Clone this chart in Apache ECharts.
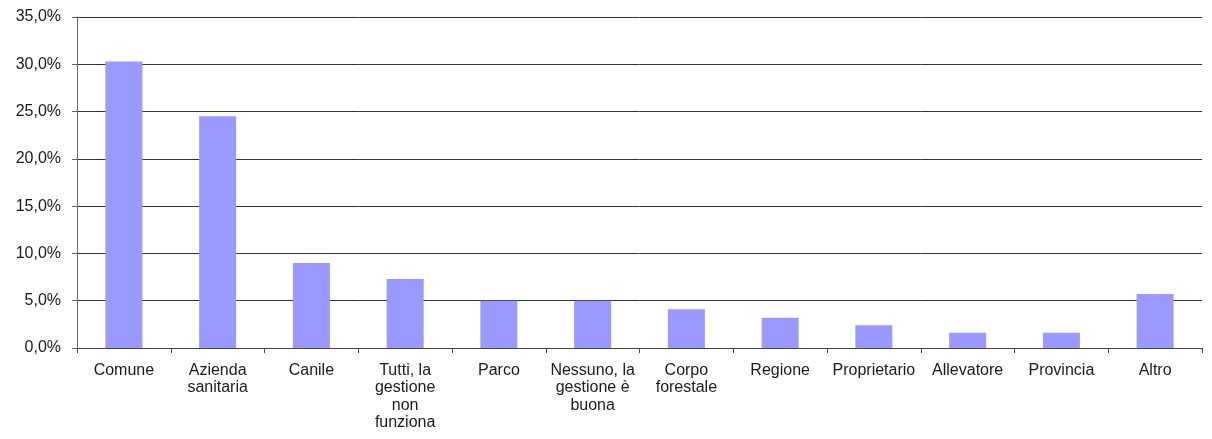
<!DOCTYPE html>
<html>
<head>
<meta charset="utf-8">
<script src="https://cdn.jsdelivr.net/npm/echarts@6/dist/echarts.min.js"></script>
<style>
  html, body { margin: 0; padding: 0; background: #fff; }
  #chart { width: 1212px; height: 439px; }
</style>
</head>
<body>
<div id="chart"></div>
<script>
// Categorie di risposta (con a capo per le etichette lunghe)
const categories = [
  'Comune', 'Azienda\nsanitaria', 'Canile', 'Tutti, la\ngestione\nnon\nfunziona',
  'Parco', 'Nessuno, la\ngestione è\nbuona', 'Corpo\nforestale', 'Regione',
  'Proprietario', 'Allevatore', 'Provincia', 'Altro'
];
// Percentuali di risposta
const values = [30.3, 24.5, 9.0, 7.3, 5.0, 5.0, 4.1, 3.2, 2.4, 1.6, 1.6, 5.7];
// Asse Y: 0–35% a passi di 5
const yMin = 0, yMax = 35, yStep = 5;

const chart = echarts.init(document.getElementById('chart'));
const font = 'Liberation Sans, Arial, sans-serif';
chart.setOption({
  animation: false,
  grid: { left: 77, right: 10, top: 17, bottom: 91, containLabel: false },
  xAxis: {
    type: 'category',
    data: categories,
    axisLine: { lineStyle: { color: '#444', width: 1 } },
    axisTick: { show: true, alignWithLabel: false, length: 5, lineStyle: { color: '#444' } },
    axisLabel: {
      interval: 0, color: '#1a1a1a', fontFamily: font, fontSize: 16,
      lineHeight: 17.3, margin: 14, align: 'center'
    }
  },
  yAxis: {
    type: 'value',
    min: yMin, max: yMax, interval: yStep,
    axisLine: { show: true, lineStyle: { color: '#666', width: 1 } },
    axisTick: { show: true, length: 5, lineStyle: { color: '#666' } },
    splitLine: { lineStyle: { color: '#333', width: 1 } },
    axisLabel: {
      color: '#1a1a1a', fontFamily: font, fontSize: 16, margin: 16,
      formatter: v => v.toFixed(1).replace('.', ',') + '%'
    }
  },
  series: [{
    type: 'bar',
    data: values,
    barWidth: 37,
    itemStyle: { color: '#9999ff' }
  }]
});
</script>
</body>
</html>
